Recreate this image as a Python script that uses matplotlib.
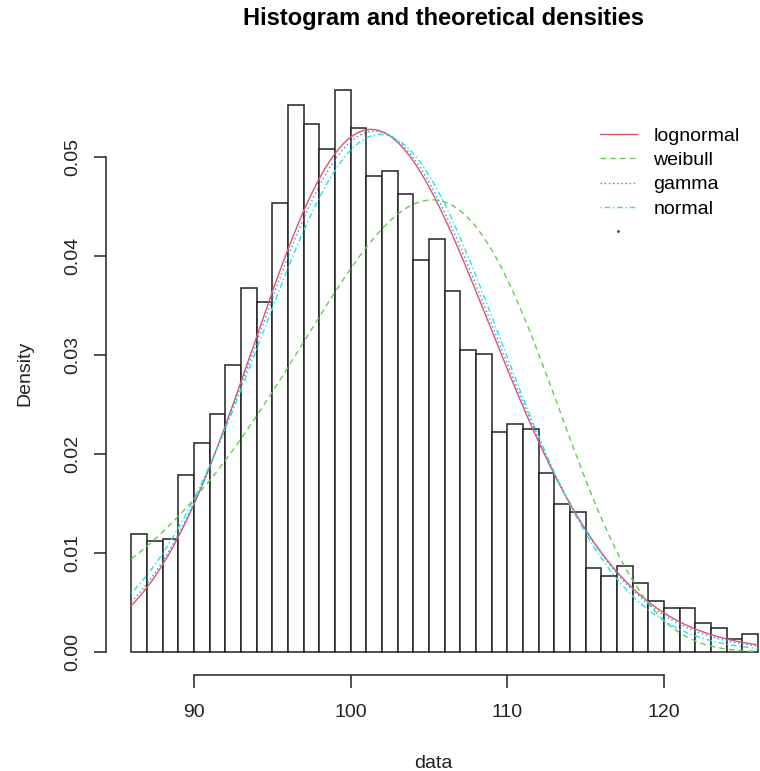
import math
import numpy as np
import matplotlib
matplotlib.use("Agg")
import matplotlib.pyplot as plt
from matplotlib.lines import Line2D

plt.rcParams['font.family'] = ['Liberation Sans', 'DejaVu Sans']

# ---- data ----
bin_edges = list(range(86, 127))
densities = [0.0119, 0.0112, 0.0114, 0.0179, 0.0211, 0.0240, 0.0290, 0.0368, 0.0354, 0.0454,
             0.0553, 0.0533, 0.0508, 0.0568, 0.0529, 0.0481, 0.0486, 0.0463, 0.0396, 0.0417,
             0.0365, 0.0305, 0.0301, 0.0222, 0.0230, 0.0225, 0.0181, 0.0150, 0.0141, 0.0085,
             0.0077, 0.0087, 0.0070, 0.0052, 0.0044, 0.0044, 0.0029, 0.0024, 0.0013, 0.0018]

# fitted distribution parameters
lnorm_meanlog = 4.6236
lnorm_sdlog = 0.0744
weibull_shape = 13.1
weibull_scale = 105.84
gamma_shape = 180.4
gamma_rate = 1.767
norm_mean = 101.9
norm_sd = 7.63

dist_names = ["lognormal", "weibull", "gamma", "normal"]
dist_colors = ["#DF536B", "#61D04F", "#2297E6", "#28E2E5"]
dist_styles = ["-", (0, (4, 3)), (0, (1, 2)), (0, (1, 2, 4, 2))]
x_ticks = [90, 100, 110, 120]
y_ticks = [0.00, 0.01, 0.02, 0.03, 0.04, 0.05]


def dlnorm(x, m, s):
    return np.exp(-(np.log(x) - m) ** 2 / (2 * s * s)) / (x * s * math.sqrt(2 * math.pi))


def dweibull(x, k, lam):
    z = x / lam
    return (k / lam) * z ** (k - 1) * np.exp(-z ** k)


def dgamma(x, k, r):
    return np.exp(k * math.log(r) + (k - 1) * np.log(x) - r * x - math.lgamma(k))


def dnorm(x, mu, sd):
    return np.exp(-(x - mu) ** 2 / (2 * sd * sd)) / (sd * math.sqrt(2 * math.pi))


W, H = 760, 771
fig = plt.figure(figsize=(W / 100, H / 100), dpi=100)
ax_left_px, ax_right_px = 106.0, 760.0
ax_top_px, ax_bot_px = 72.0, 674.5
ax = fig.add_axes([ax_left_px / W, 1 - ax_bot_px / H,
                   (ax_right_px - ax_left_px) / W, (ax_bot_px - ax_top_px) / H])

ppu = 15.667
x0 = 86 - (131.3 - ax_left_px) / ppu
x1 = x0 + (ax_right_px - ax_left_px) / ppu
ax.set_xlim(x0, x1)
ppy = 9900.0
ax.set_ylim(-(ax_bot_px - 652.0) / ppy, (652.0 - ax_top_px) / ppy)

edges = np.array(bin_edges, dtype=float)
ax.bar(edges[:-1], densities, width=np.diff(edges), align='edge',
       facecolor='white', edgecolor='#222222', linewidth=1.1, zorder=1)

xs = np.linspace(bin_edges[0], bin_edges[-1], 600)
curves = [dlnorm(xs, lnorm_meanlog, lnorm_sdlog),
          dweibull(xs, weibull_shape, weibull_scale),
          dgamma(xs, gamma_shape, gamma_rate),
          dnorm(xs, norm_mean, norm_sd)]
handles = []
for name, col, ls, ys in zip(dist_names, dist_colors, dist_styles, curves):
    ax.plot(xs, ys, color=col, linestyle=ls, linewidth=1.0, zorder=3)
    handles.append(Line2D([], [], color=col, linestyle=ls, linewidth=1.0))

handles.append(Line2D([], [], color='#444444', linestyle='none', marker='.', markersize=2))
labels = dist_names + [""]

leg = fig.legend(handles, labels, loc='upper left',
                 bbox_to_anchor=(600 / W, 1 - 127.3 / H), frameon=False,
                 fontsize=14, handlelength=1.9, handletextpad=0.85,
                 labelspacing=0.34, borderpad=0, borderaxespad=0)

for s in ['top', 'right']:
    ax.spines[s].set_visible(False)
ax.spines['left'].set_bounds(y_ticks[0], y_ticks[-1])
ax.spines['bottom'].set_bounds(x_ticks[0], x_ticks[-1])
for s in ['left', 'bottom']:
    ax.spines[s].set_linewidth(1.1)
    ax.spines[s].set_color('#222222')

ax.set_xticks(x_ticks)
ax.set_xticklabels([str(v) for v in x_ticks])
ax.set_yticks(y_ticks)
ax.set_yticklabels([f"{v:.2f}" for v in y_ticks], rotation=90, va='center')
ax.tick_params(axis='both', direction='out', length=9, width=1.1, color='#222222',
               labelsize=14, labelcolor='#222222')
ax.tick_params(axis='x', pad=12.5)
ax.tick_params(axis='y', pad=9)

ax.set_xlabel("data", fontsize=14, labelpad=24, color='#222222')
ax.set_ylabel("Density", fontsize=14, labelpad=22, color='#222222')
fig.text(0.5 * (242 + 645) / W, 1 - 18 / H, "Histogram and theoretical densities",
         ha='center', va='center', fontsize=17, fontweight='bold')

fig.savefig("out.png", dpi=100)
